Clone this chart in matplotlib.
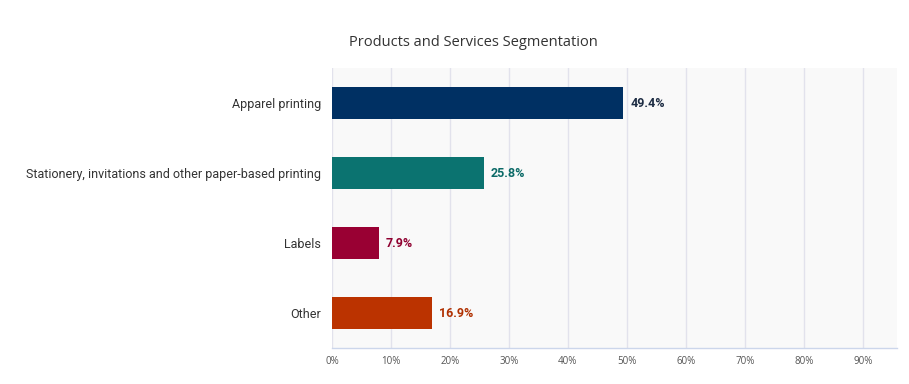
import matplotlib
matplotlib.use("Agg")
import matplotlib.pyplot as plt

categories = ["Apparel printing", "Stationery, invitations and other paper-based printing", "Labels", "Other"]
values = [49.4, 25.8, 7.9, 16.9]
colors = ["#003063", "#0b7370", "#990033", "#bb3300"]
label_colors = ["#1e2d44", "#0b6a67", "#8f0030", "#b03000"]
xticks = [0, 10, 20, 30, 40, 50, 60, 70, 80, 90]
xtick_labels = ["0%", "10%", "20%", "30%", "40%", "50%", "60%", "70%", "80%", "90%"]
title = "Products and Services Segmentation"

plt.rcParams['font.family'] = ['Roboto', 'DejaVu Sans']

fig = plt.figure(figsize=(9.09, 3.84), dpi=100)
ax = fig.add_axes([0.3652, 0.09375, 0.6216, 0.72915])
ax.set_facecolor("#f9f9f9")

y = list(range(len(categories)))
ax.barh(y, values, height=0.47, color=colors, zorder=3)
for yi, v, c in zip(y, values, label_colors):
    ax.annotate(f"{v}%", xy=(v, yi), xytext=(5, 0), textcoords="offset points",
                va="center", ha="left", fontsize=9, fontweight="bold", color=c)

ax.set_ylim(len(categories) - 0.5, -0.5)
ax.set_xlim(0, 95.8)
ax.set_yticks(y)
ax.set_yticklabels(categories, fontsize=9, color="#333333")
ax.set_xticks(xticks)
ax.set_xticklabels(xtick_labels, fontsize=7, color="#555555", family=['Open Sans', 'DejaVu Sans'])
ax.tick_params(axis="both", length=0, pad=8)
ax.tick_params(axis="x", pad=6)
ax.grid(axis="x", color="#e2e2ec", linewidth=1, zorder=0)
for s in ["top", "right", "left"]:
    ax.spines[s].set_visible(False)
ax.spines["bottom"].set_color("#ccd6eb")
ax.spines["bottom"].set_linewidth(1)

fig.text(0.5204, 0.8906, title, ha="center", va="center", fontsize=10.5, color="#333333",
         family=['Open Sans', 'DejaVu Sans'])

fig.savefig("out.png", dpi=100, facecolor="white")
